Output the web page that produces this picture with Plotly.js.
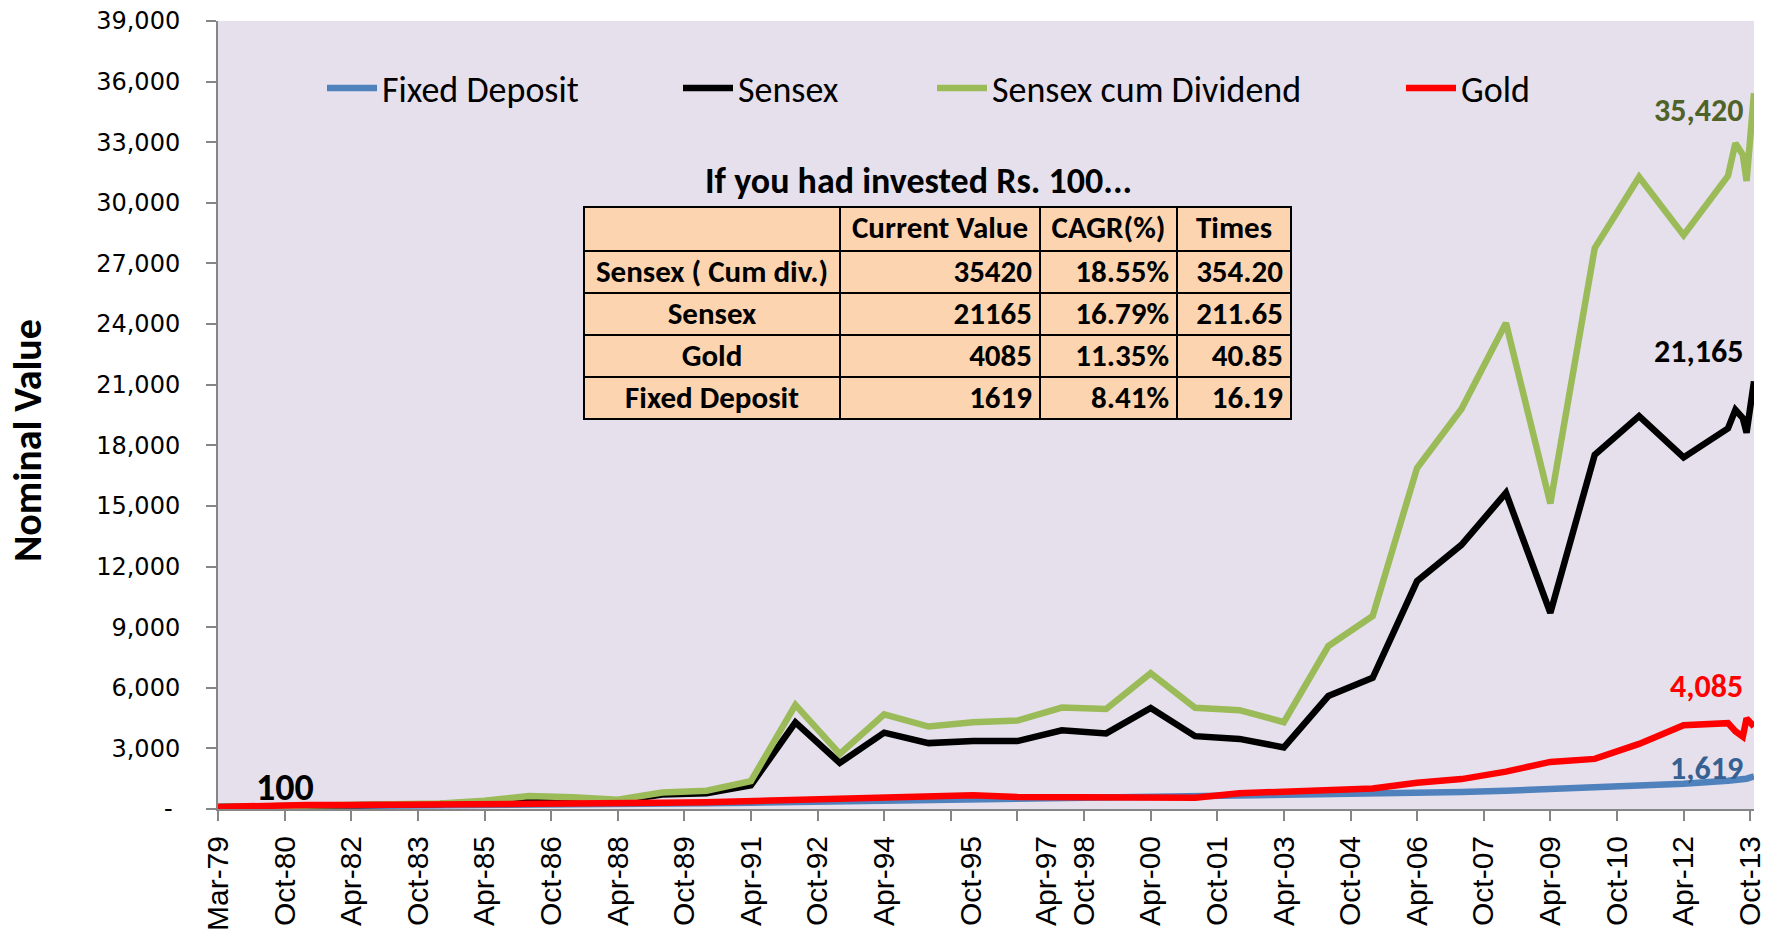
<!DOCTYPE html>
<html>
<head>
<meta charset="utf-8">
<script src="https://cdn.plot.ly/plotly-3.0.1.min.js"></script>
<style>html,body{margin:0;padding:0;background:#fff;}#chart{width:1771px;height:934px;}</style>
</head>
<body>
<div id="chart"></div>
<script>
// ---------- data ----------
const dates = ["1979-03-31","1980-03-31","1981-03-31","1982-03-31","1983-03-31","1984-03-31","1985-03-31",
  "1986-03-31","1987-03-31","1988-03-31","1989-03-31","1990-03-31","1991-03-31","1992-03-31","1993-03-31",
  "1994-03-31","1995-03-31","1996-03-31","1997-03-31","1998-03-31","1999-03-31","2000-03-31","2001-03-31",
  "2002-03-31","2003-03-31","2004-03-31","2005-03-31","2006-03-31","2007-03-31","2008-03-31","2009-03-31",
  "2010-03-31","2011-03-31","2012-03-31","2013-03-31","2013-05-31","2013-07-31","2013-08-31","2013-10-31"];

const fixedDeposit = [100,110,121,133,146,160,176,193,212,233,256,281,308,338,370,395,420,450,485,520,555,
  590,625,660,690,720,750,790,840,900,970,1040,1120,1250,1400,1430,1460,1500,1619];

const sensex = [100,129,173,218,212,245,354,574,510,398,714,781,1168,4285,2281,3779,3261,3367,3361,3893,3740,
  5001,3604,3469,3049,5591,6493,11280,13072,15644,9709,17528,19445,17404,18836,19760,19346,18620,21165];

const sensexCumDiv = [100,134,185,240,237,277,404,643,580,460,820,905,1380,5150,2720,4680,4080,4290,4380,5020,
  4950,6720,5010,4890,4300,8060,9550,16880,19800,24050,15120,27760,31280,28400,31330,32950,32380,31080,35420];

const gold = [100,180,200,200,205,215,225,235,265,290,305,330,390,460,490,560,620,680,600,570,570,560,560,
  780,830,930,1010,1300,1480,1850,2330,2480,3220,4150,4250,3850,3580,4480,4085];

const seriesNames = ["Fixed Deposit","Sensex","Sensex cum Dividend","Gold"];

const tickDates = ["1979-03-31","1980-09-30","1982-03-31","1983-09-30","1985-03-31","1986-09-30","1988-03-31",
  "1989-09-30","1991-03-31","1992-09-30","1994-03-31","1995-09-30","1997-03-31","1998-09-30","2000-03-31",
  "2001-09-30","2003-03-31","2004-09-30","2006-03-31","2007-09-30","2009-03-31","2010-09-30","2012-03-31","2013-09-30"];
const labelDates = ["1979-03-31","1980-09-30","1982-03-31","1983-09-30","1985-03-31","1986-09-30","1988-03-31",
  "1989-09-30","1991-03-31","1992-09-30","1994-03-31","1996-03-15","1997-11-20","1998-09-30","2000-03-31",
  "2001-09-30","2003-03-31","2004-09-30","2006-03-31","2007-09-30","2009-03-31","2010-09-30","2012-03-31","2013-09-30"];
const tickLabels = ["Mar-79","Oct-80","Apr-82","Oct-83","Apr-85","Oct-86","Apr-88","Oct-89","Apr-91","Oct-92",
  "Apr-94","Oct-95","Apr-97","Oct-98","Apr-00","Oct-01","Apr-03","Oct-04","Apr-06","Oct-07","Apr-09","Oct-10","Apr-12","Oct-13"];

const yTickVals = [0,3000,6000,9000,12000,15000,18000,21000,24000,27000,30000,33000,36000,39000];
const yTickText = ["-\u00a0","3,000","6,000","9,000","12,000","15,000","18,000","21,000","24,000","27,000","30,000","33,000","36,000","39,000"];

const yTitle = "Nominal Value";
const tableTitle = "If you had invested Rs. 100...";
const tableHeader = ["", "Current Value", "CAGR(%)", "Times"];
const tableAssets = ["Sensex ( Cum div.)", "Sensex", "Gold", "Fixed Deposit"];
const tableCurrent = ["35420", "21165", "4085", "1619"];
const tableCagr = ["18.55%", "16.79%", "11.35%", "8.41%"];
const tableTimes = ["354.20", "211.65", "40.85", "16.19"];

// ---------- style ----------
const CAL = "Carlito, 'Liberation Sans Narrow', 'Arial Narrow', sans-serif";
const colors = {fd:"#4F81BD", sx:"#000000", scd:"#9BBB59", gold:"#FF0000"};
const LW = 6.5;
const L = 218, R = 1754, T = 21, B = 809;
const px2x = p => (p - L) / (R - L);
const px2y = p => (B - p) / (B - T);
const fmt = v => v.toLocaleString('en-US');
const last = a => a[a.length - 1];
const tableFont = {family:CAL, size:31, color:'#000', weight:'bold'};

const traces = [
  {type:'scatter', mode:'lines', name:seriesNames[0], x:dates, y:fixedDeposit, line:{color:colors.fd, width:LW}, legend:'legend', hoverinfo:'skip'},
  {type:'scatter', mode:'lines', name:seriesNames[1], x:dates, y:sensex, line:{color:colors.sx, width:LW}, legend:'legend2', hoverinfo:'skip'},
  {type:'scatter', mode:'lines', name:seriesNames[2], x:dates, y:sensexCumDiv, line:{color:colors.scd, width:LW}, legend:'legend3', hoverinfo:'skip'},
  {type:'scatter', mode:'lines', name:seriesNames[3], x:dates, y:gold, xaxis:'x2', line:{color:colors.gold, width:LW}, legend:'legend4', hoverinfo:'skip'},
  {type:'table',
   domain:{x:[px2x(584), px2x(1291)], y:[px2y(424), px2y(207)]},
   columnwidth:[256,200,137,114],
   header:{values:tableHeader, align:['center','center','center','center'], height:44,
     fill:{color:'#FCD5B0'}, line:{color:'#000', width:2}, font:tableFont},
   cells:{values:[tableAssets, tableCurrent, tableCagr, tableTimes], align:['center','right','right','right'], height:42,
     fill:{color:'#FCD5B0'}, line:{color:'#000', width:2}, font:tableFont}
  }
];

const legendFont = {family:CAL, size:36, color:'#000'};
const mkLegend = p => ({x:px2x(p), y:px2y(88), xanchor:'left', yanchor:'middle', orientation:'h',
  bgcolor:'rgba(0,0,0,0)', borderwidth:0, font:legendFont, itemwidth:50});

const axisGray = '#868686';
const layout = {
  width:1771, height:934,
  margin:{l:L, r:1771-R, t:T, b:934-B, autoexpand:false},
  paper_bgcolor:'#FFFFFF', plot_bgcolor:'#E5E0EC',
  showlegend:true,
  legend:mkLegend(322), legend2:mkLegend(678), legend3:mkLegend(932), legend4:mkLegend(1401),
  xaxis:{type:'date', range:[dates[0], last(dates)], tickmode:'array', tickvals:tickDates, showticklabels:false,
    ticks:'outside', ticklen:10, tickwidth:2, tickcolor:axisGray, showline:true, linecolor:axisGray, linewidth:2,
    showgrid:false, zeroline:false, fixedrange:true},
  xaxis2:{type:'date', overlaying:'x', anchor:'y', side:'bottom', range:[dates[0], last(dates)], tickmode:'array',
    tickvals:labelDates, ticktext:tickLabels, ticks:'', showline:false, showgrid:false, zeroline:false,
    tickangle:-90, ticklabelstandoff:20, tickfont:{family:"'Liberation Sans', Arial, sans-serif", size:30, color:'#000'}},
  yaxis:{range:[0,39000], tickmode:'array', tickvals:yTickVals, ticktext:yTickText,
    ticks:'outside', ticklen:10, tickwidth:2, tickcolor:axisGray, showline:true, linecolor:axisGray, linewidth:2,
    showgrid:false, zeroline:false, ticklabelstandoff:21,
    tickfont:{family:"'DejaVu Sans', Verdana, sans-serif", size:24, color:'#000'}},
  annotations:[
    {xref:'paper', yref:'paper', x:px2x(28), y:px2y(441), text:yTitle, showarrow:false, textangle:-90,
      xanchor:'center', yanchor:'middle', font:{family:CAL, size:40, color:'#000', weight:'bold'}},
    {xref:'paper', yref:'paper', x:px2x(918), y:px2y(181), text:tableTitle, showarrow:false,
      font:{family:CAL, size:36, color:'#000', weight:'bold'}, xanchor:'center', yanchor:'middle'},
    {xref:'x', yref:'y', x:last(dates), y:last(sensexCumDiv), text:fmt(last(sensexCumDiv)), showarrow:false,
      xanchor:'right', yanchor:'middle', xshift:-9, yshift:-17, font:{family:CAL, size:32, color:'#4F6228', weight:'bold'}},
    {xref:'x', yref:'y', x:last(dates), y:last(sensex), text:fmt(last(sensex)), showarrow:false,
      xanchor:'right', yanchor:'middle', xshift:-9, yshift:30, font:{family:CAL, size:32, color:'#000', weight:'bold'}},
    {xref:'x', yref:'y', x:last(dates), y:last(gold), text:fmt(last(gold)), showarrow:false,
      xanchor:'right', yanchor:'middle', xshift:-9, yshift:40, font:{family:CAL, size:32, color:'#FF0000', weight:'bold'}},
    {xref:'x', yref:'y', x:last(dates), y:last(fixedDeposit), text:fmt(last(fixedDeposit)), showarrow:false,
      xanchor:'right', yanchor:'middle', xshift:-9, yshift:8, font:{family:CAL, size:32, color:'#376092', weight:'bold'}},
    {xref:'x', yref:'y', x:dates[0], y:sensex[0], text:fmt(sensex[0]), showarrow:false,
      xanchor:'left', yanchor:'middle', xshift:36, yshift:20, font:{family:CAL, size:38, color:'#000', weight:'bold'}}
  ]
};

Plotly.newPlot('chart', traces, layout, {staticPlot:true, displayModeBar:false});
</script>
</body>
</html>
